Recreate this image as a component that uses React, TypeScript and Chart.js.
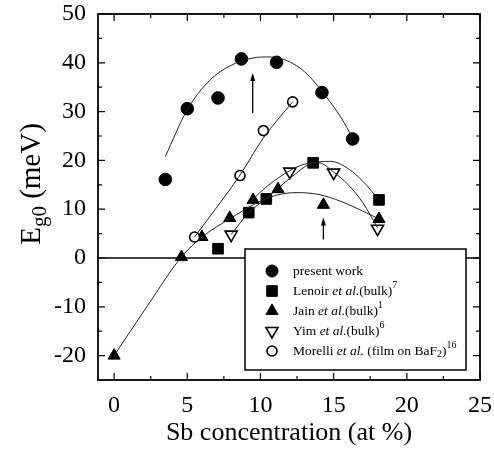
import React, { useEffect, useRef } from 'react';
import { Chart, registerables } from 'chart.js';
import { drawPoint } from 'chart.js/helpers';

Chart.register(...registerables);

// Axis ticks
const xTickValues = [0, 5, 10, 15, 20, 25];
const yTickValues = [-20, -10, 0, 10, 20, 30, 40, 50];
const xMinorStep = 2.5;
const yMinorStep = 5;

// Measured band gap (meV) vs Sb concentration (at %)
const presentX = [3.5, 5.0, 7.1, 8.7, 11.1, 14.2, 16.3];
const presentY = [16.1, 30.6, 32.8, 40.8, 40.1, 33.9, 24.4];

const lenoirX = [7.1, 9.2, 10.4, 13.6, 18.1];
const lenoirY = [1.9, 9.3, 12.1, 19.5, 11.9];

const jainX = [0, 4.6, 6.0, 7.9, 9.5, 11.2, 14.3, 18.1];
const jainY = [-20, 0.2, 4.3, 8.2, 11.9, 14.1, 10.9, 8.0];

const yimX = [8.0, 12.0, 15.0, 18.0];
const yimY = [4.8, 17.7, 17.5, 6.0];

const morelliX = [5.5, 8.6, 10.2, 12.2];
const morelliY = [4.3, 16.9, 26.1, 32.0];

// Guide-to-the-eye curves
const presentCurveX = [3.5, 5, 6.5, 8, 9.5, 10.5, 11.5, 13, 14.5, 15.5, 16.3];
const presentCurveY = [20.8, 30.4, 36.3, 39.5, 41.0, 41.2, 40.8, 38.2, 33.0, 28.8, 24.6];

const jainCurveX = [0, 2.3, 4.6, 6, 8, 9.5, 11, 12.5, 14, 15.5, 17, 18.1];
const jainCurveY = [-20, -9.7, 0.2, 4.3, 8.2, 10.9, 12.8, 13.4, 13.0, 11.6, 9.6, 8.0];

const lenoirCurveX = [8.0, 9.2, 10.4, 12, 13.6, 14.8, 16, 17, 18.1];
const lenoirCurveY = [4.8, 9.3, 12.2, 16.3, 19.5, 19.8, 18.3, 15.7, 11.9];

const yimCurveX = [9.4, 10.5, 12, 13, 14, 15, 16, 17, 18];
const yimCurveY = [11.8, 14.8, 17.9, 19.2, 19.5, 17.6, 15.0, 11.3, 6.2];

const morelliCurveX = [5.5, 8.6, 10.2, 12.2];
const morelliCurveY = [4.3, 17.0, 24.6, 32.0];

// Arrows marking the maxima
const arrowX = [9.47, 14.3];
const arrowFromY = [29.7, 3.8];
const arrowToY = [37.9, 8.3];

const SERIF = "'Liberation Serif', 'Times New Roman', serif";

type Seg = { t: string; i?: boolean; sup?: boolean; sub?: boolean };

const legendRows: { style: any; segs: Seg[] }[] = [
  { style: { pointStyle: 'circle', radius: 6, fill: '#000', rotation: 0, borderWidth: 1 }, segs: [{ t: 'present work' }] },
  { style: { pointStyle: 'rect', radius: 7.5, fill: '#000', rotation: 0, borderWidth: 1 }, segs: [{ t: 'Lenoir ' }, { t: 'et al.', i: true }, { t: '(bulk)' }, { t: '7', sup: true }] },
  { style: { pointStyle: 'triangle', radius: 7, fill: '#000', rotation: 0, borderWidth: 1 }, segs: [{ t: 'Jain ' }, { t: 'et al.', i: true }, { t: '(bulk)' }, { t: '1', sup: true }] },
  { style: { pointStyle: 'triangle', radius: 7, fill: '#fff', rotation: 180, borderWidth: 1.6 }, segs: [{ t: 'Yim ' }, { t: 'et al.', i: true }, { t: '(bulk)' }, { t: '6', sup: true }] },
  { style: { pointStyle: 'circle', radius: 5, fill: '#fff', rotation: 0, borderWidth: 1.6 }, segs: [{ t: 'Morelli ' }, { t: 'et al.', i: true }, { t: ' (film on BaF' }, { t: '2', sub: true }, { t: ')' }, { t: '16', sup: true }] },
];

const pts = (xs: number[], ys: number[]) => xs.map((x, k) => ({ x, y: ys[k] }));

function drawRich(ctx: CanvasRenderingContext2D, segs: Seg[], x: number, y: number, size: number) {
  let cx = x;
  for (const s of segs) {
    const fs = s.sup || s.sub ? Math.round(size * 0.72) : size;
    ctx.font = `${s.i ? 'italic ' : ''}${fs}px ${SERIF}`;
    const dy = s.sup ? -size * 0.42 : s.sub ? size * 0.28 : 0;
    ctx.fillText(s.t, cx, y + dy);
    cx += ctx.measureText(s.t).width;
  }
}

const decorations = {
  id: 'decorations',
  beforeDatasetsDraw(chart: any) {
    const { ctx, chartArea: a, scales } = chart;
    const xs = scales.x;
    const ys = scales.y;
    ctx.save();
    ctx.strokeStyle = '#000';
    // zero line
    ctx.lineWidth = 1.5;
    const y0 = ys.getPixelForValue(0);
    ctx.beginPath();
    ctx.moveTo(a.left, y0);
    ctx.lineTo(a.right, y0);
    ctx.stroke();
    // inward tick marks on all four sides
    ctx.lineWidth = 1.2;
    const isMajorX = (v: number) => Math.abs(v / 5 - Math.round(v / 5)) < 1e-6;
    for (let v = 0; v <= xs.max + 1e-6; v += xMinorStep) {
      const px = xs.getPixelForValue(v);
      const len = isMajorX(v) ? 7 : 4;
      ctx.beginPath();
      ctx.moveTo(px, a.bottom);
      ctx.lineTo(px, a.bottom - len);
      ctx.moveTo(px, a.top);
      ctx.lineTo(px, a.top + len);
      ctx.stroke();
    }
    const isMajorY = (v: number) => Math.abs(v / 10 - Math.round(v / 10)) < 1e-6;
    for (let v = -20; v <= ys.max + 1e-6; v += yMinorStep) {
      const py = ys.getPixelForValue(v);
      const len = isMajorY(v) ? 7 : 4;
      ctx.beginPath();
      ctx.moveTo(a.left, py);
      ctx.lineTo(a.left + len, py);
      ctx.moveTo(a.right, py);
      ctx.lineTo(a.right - len, py);
      ctx.stroke();
    }
    // frame
    ctx.lineWidth = 1.8;
    ctx.strokeRect(a.left, a.top, a.right - a.left, a.bottom - a.top);
    ctx.restore();
  },
  afterDraw(chart: any) {
    const { ctx, chartArea: a, scales } = chart;
    const xs = scales.x;
    const ys = scales.y;
    ctx.save();
    ctx.fillStyle = '#000';
    ctx.strokeStyle = '#000';
    // arrows
    for (let k = 0; k < arrowX.length; k++) {
      const px = xs.getPixelForValue(arrowX[k]);
      const p1 = ys.getPixelForValue(arrowFromY[k]);
      const p2 = ys.getPixelForValue(arrowToY[k]);
      ctx.lineWidth = 1.3;
      ctx.beginPath();
      ctx.moveTo(px, p1);
      ctx.lineTo(px, p2 + 6);
      ctx.stroke();
      ctx.beginPath();
      ctx.moveTo(px, p2);
      ctx.lineTo(px - 2.5, p2 + 8);
      ctx.lineTo(px + 2.5, p2 + 8);
      ctx.closePath();
      ctx.fill();
    }
    // legend box
    const lx = a.left + 147;
    const ly = a.top + 235;
    const lw = 221;
    const lh = 121;
    ctx.fillStyle = '#fff';
    ctx.fillRect(lx, ly, lw, lh);
    ctx.lineWidth = 1.5;
    ctx.strokeRect(lx, ly, lw, lh);
    ctx.textBaseline = 'middle';
    ctx.textAlign = 'left';
    legendRows.forEach((row, k) => {
      const ry = ly + 22 + k * 20;
      ctx.fillStyle = row.style.fill;
      ctx.strokeStyle = '#000';
      ctx.lineWidth = row.style.borderWidth;
      drawPoint(ctx, { pointStyle: row.style.pointStyle, rotation: row.style.rotation, radius: row.style.radius, borderWidth: row.style.borderWidth } as any, lx + 27, ry);
      ctx.fillStyle = '#000';
      drawRich(ctx, row.segs, lx + 48, ry, 13.5);
    });
    // axis titles
    ctx.fillStyle = '#000';
    ctx.textAlign = 'center';
    ctx.font = `26px ${SERIF}`;
    ctx.fillText('Sb concentration (at %)', (a.left + a.right) / 2, 433);
    ctx.save();
    ctx.translate(32, 184);
    ctx.rotate(-Math.PI / 2);
    const segs: Seg[] = [{ t: 'E' }, { t: 'g0', sub: true }, { t: ' (meV)' }];
    const big = 29;
    const small = 21;
    let total = 0;
    for (const s of segs) {
      ctx.font = `${s.sub ? small : big}px ${SERIF}`;
      total += ctx.measureText(s.t).width;
    }
    ctx.textAlign = 'left';
    let cx = -total / 2;
    for (const s of segs) {
      ctx.font = `${s.sub ? small : big}px ${SERIF}`;
      ctx.fillText(s.t, cx, s.sub ? 8 : 0);
      cx += ctx.measureText(s.t).width;
    }
    ctx.restore();
    ctx.restore();
  },
};

const curve = (xs: number[], ys: number[]) => ({
  data: pts(xs, ys),
  showLine: true,
  borderColor: '#222',
  borderWidth: 1,
  pointRadius: 0,
  tension: 0.4,
  cubicInterpolationMode: 'monotone' as const,
  fill: false,
});

const markers = (xs: number[], ys: number[], style: string, radius: number, filled: boolean, rotation = 0) => ({
  data: pts(xs, ys),
  showLine: false,
  pointStyle: style,
  pointRadius: radius,
  pointRotation: rotation,
  pointBackgroundColor: filled ? '#000' : '#fff',
  pointBorderColor: '#000',
  pointBorderWidth: filled ? 1 : 1.6,
});

export default function App() {
  const ref = useRef<HTMLCanvasElement>(null);
  useEffect(() => {
    if (!ref.current) return;
    const chart = new Chart(ref.current, {
      type: 'scatter',
      data: {
        datasets: [
          curve(presentCurveX, presentCurveY),
          curve(jainCurveX, jainCurveY),
          curve(lenoirCurveX, lenoirCurveY),
          curve(yimCurveX, yimCurveY),
          curve(morelliCurveX, morelliCurveY),
          markers(morelliX, morelliY, 'circle', 5, false),
          markers(yimX, yimY, 'triangle', 7, false, 180),
          markers(jainX, jainY, 'triangle', 7, true),
          markers(lenoirX, lenoirY, 'rect', 7.5, true),
          markers(presentX, presentY, 'circle', 6.3, true),
        ] as any,
      },
      options: {
        animation: false,
        responsive: false,
        layout: { padding: { top: 14, right: 14, left: 0, bottom: 0 } },
        plugins: { legend: { display: false }, tooltip: { enabled: false } },
        scales: {
          x: {
            type: 'linear',
            min: -1.1,
            max: 25,
            grid: { display: false, drawTicks: false },
            border: { display: false },
            afterFit: (s: any) => { s.height = 73; s.paddingLeft = 0; s.paddingRight = 0; },
            afterBuildTicks: (s: any) => { s.ticks = xTickValues.map((v) => ({ value: v })); },
            ticks: { color: '#000', font: { family: SERIF, size: 24 }, padding: 11, maxRotation: 0, autoSkip: false },
          },
          y: {
            type: 'linear',
            min: -25,
            max: 50,
            grid: { display: false, drawTicks: false },
            border: { display: false },
            afterFit: (s: any) => { s.width = 98; s.paddingTop = 0; s.paddingBottom = 0; },
            afterBuildTicks: (s: any) => { s.ticks = yTickValues.map((v) => ({ value: v })); },
            ticks: { color: '#000', font: { family: SERIF, size: 24 }, padding: 12, autoSkip: false },
          },
        },
      },
      plugins: [decorations],
    });
    return () => chart.destroy();
  }, []);
  return (
    <div style={{ position: 'absolute', left: 0, top: 0, width: 494, height: 453, background: '#fff' }}>
      <canvas ref={ref} width={494} height={453} />
    </div>
  );
}
